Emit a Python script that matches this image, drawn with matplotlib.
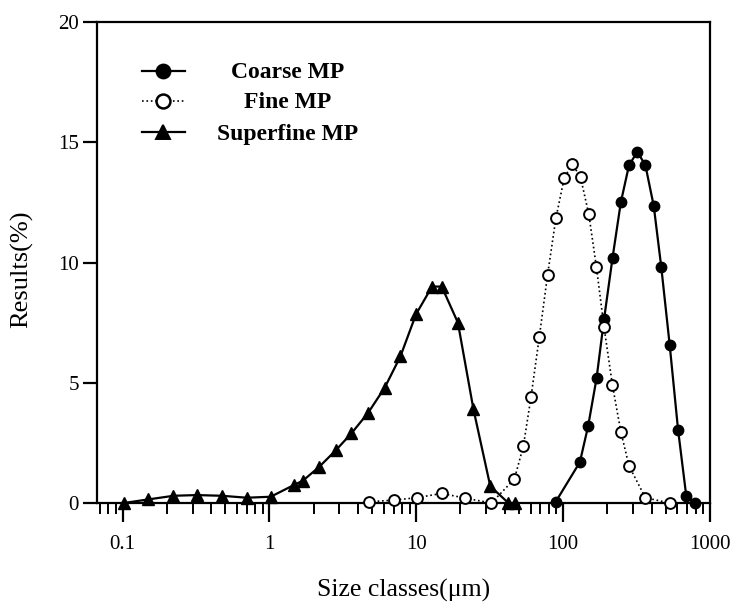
# Particle size distribution of coarse / fine / superfine MP

import numpy as np
import matplotlib.pyplot as plt
from matplotlib.ticker import LogLocator, FixedLocator, NullFormatter

plt.rcParams['font.family'] = ['Liberation Serif', 'DejaVu Serif']

# --------------------------------------------------
# data (size in um, result in %)
# --------------------------------------------------
coarse_size = [89, 130, 148, 169, 190, 217, 247, 281, 320, 363, 414, 466, 532, 606, 689, 785]
coarse_val = [0.05, 1.7, 3.2, 5.2, 7.65, 10.2, 12.5, 14.05, 14.6, 14.05, 12.35, 9.8, 6.55, 3.05, 0.3, 0.0]

fine_size = [4.75, 7.0, 10.1, 14.9, 21.6, 32.5, 46.6, 53.6, 60.4, 68.8, 78.4, 89.3, 101.6,
             115.2, 131.3, 149.6, 168.6, 190, 216.6, 247, 281, 363, 532]
fine_val = [0.05, 0.12, 0.22, 0.4, 0.2, 0.0, 1.0, 2.37, 4.4, 6.9, 9.5, 11.85, 13.5,
            14.1, 13.55, 12.0, 9.8, 7.3, 4.9, 2.97, 1.54, 0.22, 0.0]

superfine_size = [0.102, 0.15, 0.222, 0.32, 0.476, 0.70, 1.02, 1.47, 1.69, 2.18, 2.84, 3.62,
                  4.70, 6.1, 7.8, 9.96, 12.8, 14.9, 19.2, 24.5, 31.9, 42.4, 47]
superfine_val = [0.0, 0.15, 0.3, 0.33, 0.3, 0.22, 0.26, 0.75, 0.93, 1.5, 2.2, 2.9,
                 3.75, 4.8, 6.1, 7.85, 9.0, 9.0, 7.5, 3.9, 0.7, 0.0, 0.0]

series = [
    ("Coarse MP", coarse_size, coarse_val, dict(marker='o', mfc='black', ls='-', lw=1.6, ms=7.5)),
    ("Fine MP", fine_size, fine_val, dict(marker='o', mfc='white', ls=':', lw=1.2, ms=7.8, mew=1.4)),
    ("Superfine MP", superfine_size, superfine_val, dict(marker='^', mfc='black', ls='-', lw=1.6, ms=8)),
]

# --------------------------------------------------
# plotting
# --------------------------------------------------
fig = plt.figure(figsize=(7.34, 6.10), dpi=100)
ax = fig.add_axes([0.1322, 0.1754, 0.8351, 0.7885])

for name, xs, ys, st in series:
    ax.plot(xs, ys, color='black', mec='black', clip_on=False, zorder=3, **st)

ax.set_xscale('log')
ax.set_xlim(0.067, 1000)
ax.set_ylim(0, 20)
ax.set_yticks([0, 5, 10, 15, 20])
ax.xaxis.set_major_locator(FixedLocator([0.1, 1, 10, 100, 1000]))
ax.set_xticklabels(['0.1', '1', '10', '100', '1000'])
ax.xaxis.set_minor_locator(LogLocator(base=10, subs=np.arange(2, 10)))
ax.xaxis.set_minor_formatter(NullFormatter())

for s in ax.spines.values():
    s.set_linewidth(1.6)
ax.tick_params(axis='x', which='major', direction='out', length=14, width=1.6, labelsize=15, pad=9)
ax.tick_params(axis='x', which='minor', direction='out', length=8, width=1.4)
ax.tick_params(axis='y', which='major', direction='out', length=10, width=1.6, labelsize=15, pad=3)

ax.set_xlabel("Size classes(μm)", fontsize=18.5, labelpad=18)
ax.set_ylabel("Results(%)", fontsize=19)
ax.yaxis.set_label_coords(-0.104, 0.4865)

# legend drawn by hand so the labels are centred like the original
leg_y = [0.899, 0.836, 0.771]
for (name, xs, ys, st), ly in zip(series, leg_y):
    line_st = {k: v for k, v in st.items() if k not in ('marker', 'mfc', 'ms', 'mew')}
    ax.plot([0.0734, 0.1436], [ly, ly], transform=ax.transAxes, color='black', **line_st)
    ax.plot([0.1077], [ly], transform=ax.transAxes, color='black', mec='black', ls='none',
            marker=st['marker'], mfc=st['mfc'], ms=10, mew=st.get('mew', 1.0) + 0.4)
    ax.text(0.3116, ly - 0.004, name, transform=ax.transAxes, ha='center', va='center',
            fontsize=17, fontweight='bold')

fig.savefig('out.png', dpi=100)
